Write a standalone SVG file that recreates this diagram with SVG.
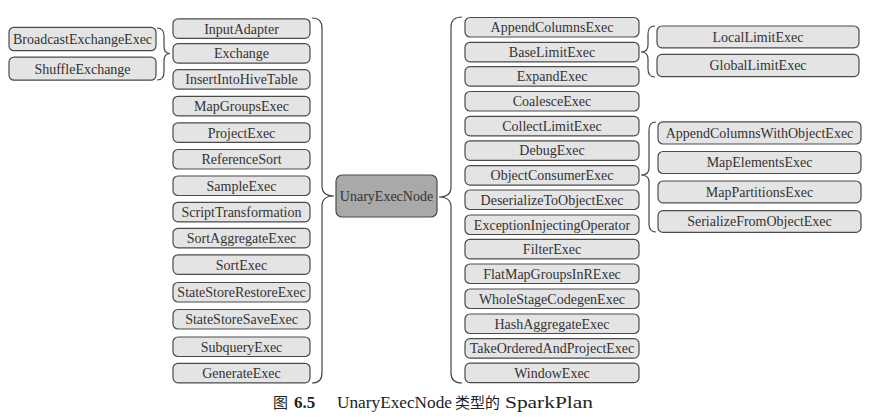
<svg xmlns="http://www.w3.org/2000/svg" width="879" height="418" viewBox="0 0 879 418">
<style>
.b{fill:#e4e4e4;stroke:#4a4a4a;stroke-width:1.2}
.c{fill:#a9a9a9;stroke:#4a4a4a;stroke-width:1.2}
.t{font-family:"Liberation Serif","Times New Roman",serif;font-size:14px;fill:#333;text-anchor:middle}
.br{fill:none;stroke:#444;stroke-width:1.2}
.cap{font-family:"Liberation Serif","Times New Roman",serif;font-size:17px;fill:#222}
.capc{font-family:"Noto Sans CJK SC",sans-serif;font-size:15px;fill:#222}
</style>
<rect width="879" height="418" fill="#fff"/>
<g id="connectors">
<path class="br" d="M312,18 Q322,18 322,28 L322,186 Q322,196 334,196 Q322,196 322,206 L322,373 Q322,383 312,383"/>
<path class="br" d="M462,17 Q451,17 451,27 L451,187 Q451,197 439,197 Q451,197 451,207 L451,373 Q451,383 462,383"/>
<path class="br" d="M157,28 Q164,28 164,36 L164,46 Q164,53.5 170,53.5 Q164,53.5 164,61 L164,72 Q164,80 157,80"/>
<path class="br" d="M655,26 Q648,26 648,34 L648,45 Q648,52 641,52 Q648,52 648,59 L648,69 Q648,77 655,77"/>
<path class="br" d="M656,122 Q649,122 649,130 L649,168 Q649,175 641,175 Q649,175 649,182 L649,224 Q649,232 656,232"/>
</g>
<g id="UnaryExecNode"><rect class="c" x="336" y="175" width="101" height="42" rx="6"/><text class="t" x="386.5" y="201">UnaryExecNode</text></g>
<g id="InputAdapter"><rect class="b" x="173" y="18.8" width="137" height="19.5" rx="5"/><text class="t" x="241.5" y="33.5">InputAdapter</text></g>
<g id="Exchange"><rect class="b" x="173" y="43.6" width="137" height="19.5" rx="5"/><text class="t" x="241.5" y="58.3">Exchange</text></g>
<g id="InsertIntoHiveTable"><rect class="b" x="173" y="69.6" width="137" height="19.5" rx="5"/><text class="t" x="241.5" y="84.3">InsertIntoHiveTable</text></g>
<g id="MapGroupsExec"><rect class="b" x="173" y="96.3" width="137" height="19.5" rx="5"/><text class="t" x="241.5" y="111">MapGroupsExec</text></g>
<g id="ProjectExec"><rect class="b" x="173" y="122.8" width="137" height="19.5" rx="5"/><text class="t" x="241.5" y="137.5">ProjectExec</text></g>
<g id="ReferenceSort"><rect class="b" x="173" y="149.5" width="137" height="19.5" rx="5"/><text class="t" x="241.5" y="164.2">ReferenceSort</text></g>
<g id="SampleExec"><rect class="b" x="173" y="176" width="137" height="19.5" rx="5"/><text class="t" x="241.5" y="190.7">SampleExec</text></g>
<g id="ScriptTransformation"><rect class="b" x="173" y="202.3" width="137" height="19.5" rx="5"/><text class="t" x="241.5" y="217">ScriptTransformation</text></g>
<g id="SortAggregateExec"><rect class="b" x="173" y="228.3" width="137" height="19.5" rx="5"/><text class="t" x="241.5" y="243">SortAggregateExec</text></g>
<g id="SortExec"><rect class="b" x="173" y="254.8" width="137" height="19.5" rx="5"/><text class="t" x="241.5" y="269.5">SortExec</text></g>
<g id="StateStoreRestoreExec"><rect class="b" x="173" y="282.5" width="137" height="19.5" rx="5"/><text class="t" x="241.5" y="297.2">StateStoreRestoreExec</text></g>
<g id="StateStoreSaveExec"><rect class="b" x="173" y="309.5" width="137" height="19.5" rx="5"/><text class="t" x="241.5" y="324.2">StateStoreSaveExec</text></g>
<g id="SubqueryExec"><rect class="b" x="173" y="337" width="137" height="19.5" rx="5"/><text class="t" x="241.5" y="351.7">SubqueryExec</text></g>
<g id="GenerateExec"><rect class="b" x="173" y="363.3" width="137" height="19.5" rx="5"/><text class="t" x="241.5" y="378">GenerateExec</text></g>
<g id="BroadcastExchangeExec"><rect class="b" x="9" y="27.3" width="147" height="23.4" rx="5"/><text class="t" x="82.5" y="44">BroadcastExchangeExec</text></g>
<g id="ShuffleExchange"><rect class="b" x="9" y="57.2" width="147" height="23" rx="5"/><text class="t" x="82.5" y="73.7">ShuffleExchange</text></g>
<g id="AppendColumnsExec"><rect class="b" x="465" y="17.5" width="174" height="19.5" rx="5"/><text class="t" x="552" y="32">AppendColumnsExec</text></g>
<g id="BaseLimitExec"><rect class="b" x="465" y="42.3" width="174" height="19.5" rx="5"/><text class="t" x="552" y="56.8">BaseLimitExec</text></g>
<g id="ExpandExec"><rect class="b" x="465" y="66.6" width="174" height="19.5" rx="5"/><text class="t" x="552" y="81.1">ExpandExec</text></g>
<g id="CoalesceExec"><rect class="b" x="465" y="91.5" width="174" height="19.5" rx="5"/><text class="t" x="552" y="106">CoalesceExec</text></g>
<g id="CollectLimitExec"><rect class="b" x="465" y="116.3" width="174" height="19.5" rx="5"/><text class="t" x="552" y="130.8">CollectLimitExec</text></g>
<g id="DebugExec"><rect class="b" x="465" y="140.8" width="174" height="19.5" rx="5"/><text class="t" x="552" y="155.3">DebugExec</text></g>
<g id="ObjectConsumerExec"><rect class="b" x="465" y="165.6" width="174" height="19.5" rx="5"/><text class="t" x="552" y="180.1">ObjectConsumerExec</text></g>
<g id="DeserializeToObjectExec"><rect class="b" x="465" y="190" width="174" height="19.5" rx="5"/><text class="t" x="552" y="204.5">DeserializeToObjectExec</text></g>
<g id="ExceptionInjectingOperator"><rect class="b" x="465" y="215" width="174" height="19.5" rx="5"/><text class="t" x="552" y="229.5">ExceptionInjectingOperator</text></g>
<g id="FilterExec"><rect class="b" x="465" y="239.3" width="174" height="19.5" rx="5"/><text class="t" x="552" y="253.8">FilterExec</text></g>
<g id="FlatMapGroupsInRExec"><rect class="b" x="465" y="264" width="174" height="19.5" rx="5"/><text class="t" x="552" y="278.5">FlatMapGroupsInRExec</text></g>
<g id="WholeStageCodegenExec"><rect class="b" x="465" y="289" width="174" height="19.5" rx="5"/><text class="t" x="552" y="303.5">WholeStageCodegenExec</text></g>
<g id="HashAggregateExec"><rect class="b" x="465" y="314" width="174" height="19.5" rx="5"/><text class="t" x="552" y="328.5">HashAggregateExec</text></g>
<g id="TakeOrderedAndProjectExec"><rect class="b" x="465" y="338.6" width="174" height="19.5" rx="5"/><text class="t" x="552" y="353.1">TakeOrderedAndProjectExec</text></g>
<g id="WindowExec"><rect class="b" x="465" y="363.1" width="174" height="19.5" rx="5"/><text class="t" x="552" y="377.6">WindowExec</text></g>
<g id="LocalLimitExec"><rect class="b" x="657" y="26" width="202" height="21.8" rx="5"/><text class="t" x="758" y="41.8">LocalLimitExec</text></g>
<g id="GlobalLimitExec"><rect class="b" x="657" y="54.4" width="202" height="22.2" rx="5"/><text class="t" x="758" y="70.3">GlobalLimitExec</text></g>
<g id="AppendColumnsWithObjectExec"><rect class="b" x="658" y="121.8" width="203" height="22.2" rx="5"/><text class="t" x="759.5" y="137.7">AppendColumnsWithObjectExec</text></g>
<g id="MapElementsExec"><rect class="b" x="658" y="151.5" width="203" height="22" rx="5"/><text class="t" x="759.5" y="167.3">MapElementsExec</text></g>
<g id="MapPartitionsExec"><rect class="b" x="658" y="181" width="203" height="21.8" rx="5"/><text class="t" x="759.5" y="196.8">MapPartitionsExec</text></g>
<g id="SerializeFromObjectExec"><rect class="b" x="658" y="210.6" width="203" height="21.8" rx="5"/><text class="t" x="759.5" y="226.4">SerializeFromObjectExec</text></g>
<g id="caption">
<text class="capc" x="273" y="408" font-size="16">图</text>
<text class="cap" x="294" y="408" font-weight="bold">6.5</text>
<text class="cap" x="337" y="408" textLength="115" lengthAdjust="spacingAndGlyphs">UnaryExecNode</text>
<text class="capc" x="455" y="408">类型的</text>
<text class="cap" x="505" y="408" textLength="88" lengthAdjust="spacingAndGlyphs">SparkPlan</text>
</g>
</svg>
